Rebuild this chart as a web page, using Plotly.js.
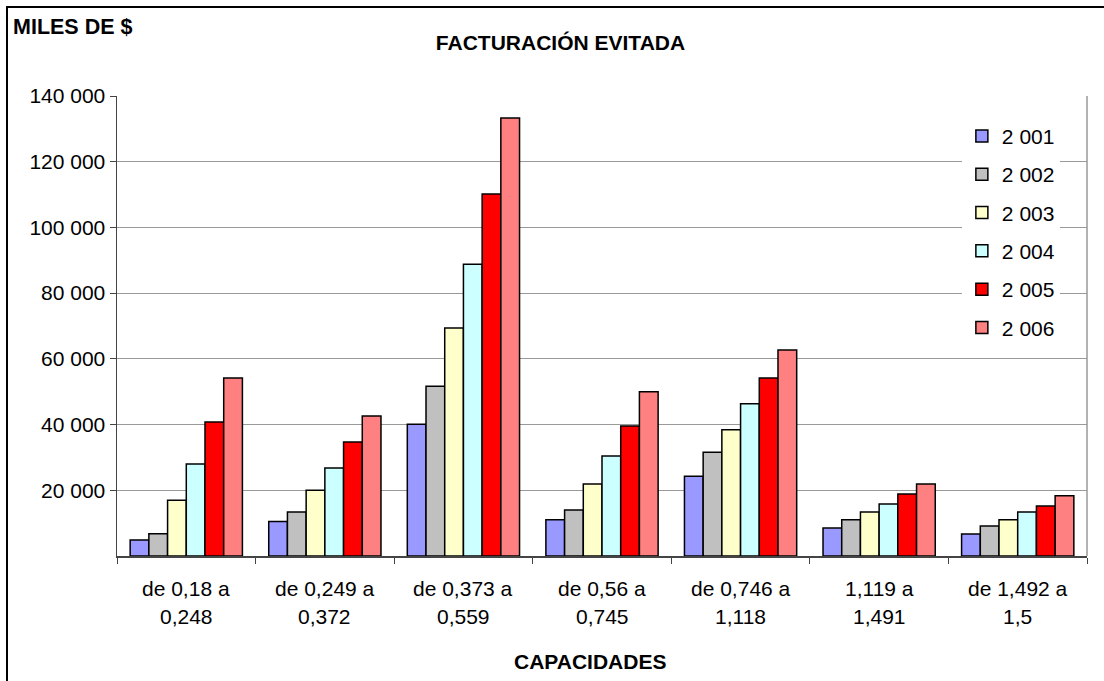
<!DOCTYPE html>
<html>
<head>
<meta charset="utf-8">
<script src="https://cdn.plot.ly/plotly-3.0.1.min.js"></script>
<style>
html,body{margin:0;padding:0;background:#fff;}
#wrap{position:relative;width:1104px;height:681px;}
#chart{width:1104px;height:681px;}
#frame{position:absolute;left:6px;top:6px;width:1200px;height:700px;border-left:2px solid #000;border-top:2px solid #000;pointer-events:none;}
</style>
</head>
<body>
<div id="wrap"><div id="chart"></div><div id="frame"></div></div>
<script>
const capLine1 = ['de 0,18 a','de 0,249 a','de 0,373 a','de 0,56 a','de 0,746 a','1,119 a','de 1,492 a'];
const capLine2 = ['0,248','0,372','0,559','0,745','1,118','1,491','1,5'];
const categories = capLine1.map((a,i)=>a+' '+capLine2[i]);

const years = ['2 001','2 002','2 003','2 004','2 005','2 006'];
const v2001 = [4900, 10500, 40100, 11000, 24300, 8500, 6700];
const v2002 = [6800, 13400, 51700, 14000, 31600, 11000, 9100];
const v2003 = [17000, 20000, 69400, 21900, 38400, 13400, 11000];
const v2004 = [28000, 26800, 88800, 30400, 46300, 15800, 13400];
const v2005 = [40800, 34700, 110200, 39600, 54200, 18900, 15200];
const v2006 = [54200, 42600, 133300, 50000, 62700, 21900, 18300];
const seriesValues = [v2001, v2002, v2003, v2004, v2005, v2006];
const colors = ['#9999FF','#C0C0C0','#FFFFCC','#CCFFFF','#FF0000','#FF8080'];
const yTicks = [20000, 40000, 60000, 80000, 100000, 120000, 140000];

const FONT = 'Liberation Sans, Arial, sans-serif';
const FS = 21;

const traces = seriesValues.map((vals,i)=>({
  type:'bar', name:years[i], x:categories, y:vals,
  legendgroup:'g'+i,
  marker:{color:colors[i], line:{color:'#000', width:1.5}},
  hoverinfo:'skip'
}));

const annotations = [];
categories.forEach((c,i)=>{
  annotations.push({xref:'x', yref:'paper', x:c, y:-0.0696, text:capLine1[i], showarrow:false, xanchor:'center', yanchor:'middle', font:{family:FONT, size:FS, color:'#000'}});
  annotations.push({xref:'x', yref:'paper', x:c, y:-0.1326, text:capLine2[i], showarrow:false, xanchor:'center', yanchor:'middle', font:{family:FONT, size:FS, color:'#000'}});
});
annotations.push({xref:'paper', yref:'paper', x:0.4876, y:-0.2304, text:'<b>CAPACIDADES</b>', showarrow:false, xanchor:'center', yanchor:'middle', font:{family:FONT, size:21, color:'#000'}});
annotations.push({xref:'paper', yref:'paper', x:-0.0454, y:1.15, text:'<b>MILES DE $</b>', showarrow:false, xanchor:'center', yanchor:'middle', font:{family:FONT, size:21.5, color:'#000'}});

const layout = {
  width:1104, height:681,
  margin:{l:117, r:17, t:96, b:125, pad:0},
  paper_bgcolor:'#fff', plot_bgcolor:'#fff',
  separators:', ',
  font:{family:FONT, size:FS, color:'#000'},
  title:{text:'<b>FACTURACIÓN EVITADA</b>', x:0.5077, xanchor:'center', y:0.938, yanchor:'middle', font:{family:FONT, size:21, color:'#000'}},
  barmode:'group', bargap:0.19, bargroupgap:0,
  showlegend:true,
  legend:{x:0.871, xanchor:'left', y:0.957, yanchor:'top', bgcolor:'#fff', borderwidth:0, font:{family:FONT, size:FS, color:'#000'}, traceorder:'grouped', tracegroupgap:8},
  xaxis:{type:'category', showticklabels:false, ticks:'outside', tickson:'boundaries', ticklen:6, tickcolor:'#444', showline:true, linecolor:'#444', linewidth:1.5, showgrid:false, zeroline:false, fixedrange:true},
  yaxis:{range:[0,140000], tickvals:yTicks, tickformat:',d', ticks:'outside', ticklen:6, tickcolor:'#444', showline:true, linecolor:'#444', linewidth:1.5, showgrid:true, gridcolor:'#999', gridwidth:1, zeroline:false, tickfont:{family:FONT, size:FS, color:'#000'}, fixedrange:true},
  shapes:[{type:'line', xref:'paper', yref:'paper', x0:1, x1:1, y0:0, y1:1, line:{color:'#999', width:1.5}}],
  annotations:annotations
};

Plotly.newPlot('chart', traces, layout, {displayModeBar:false, staticPlot:true});
</script>
</body>
</html>
